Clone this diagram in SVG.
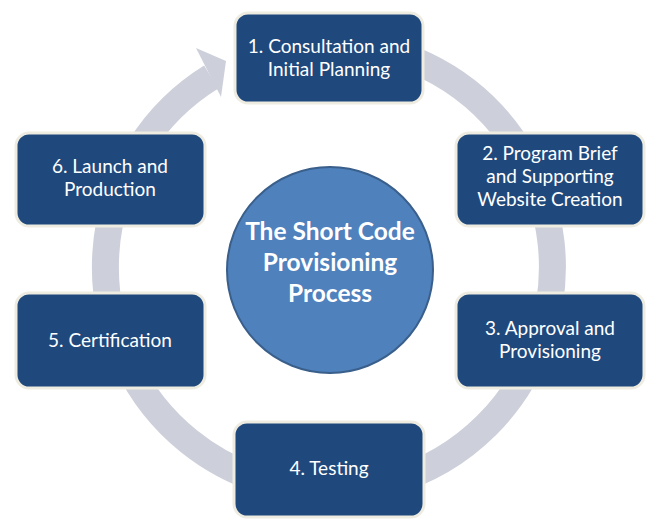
<svg xmlns="http://www.w3.org/2000/svg" width="660" height="530" viewBox="0 0 660 530">
<style>
.box{fill:#1F497D;stroke:#EEECE1;stroke-width:3}
.lbl{font-family:Lato,"Open Sans","Liberation Sans",sans-serif;font-size:19px;fill:#FFFFFF;text-anchor:middle}
.ctr{font-family:Lato,"Open Sans","Liberation Sans",sans-serif;font-size:24.5px;font-weight:bold;fill:#FFFFFF;text-anchor:middle}
.ring{fill:none;stroke:#CDD0DA;stroke-width:27}
</style>
<rect width="660" height="530" fill="#FFFFFF"/>
<g id="connectors">
<path class="ring" d="M 329 43.5 A 223.5 223.5 0 1 1 211.2 77.0"/>
<polygon points="196,48 226,61 221,97" fill="#CDD0DA"/>
</g>
<g id="center">
<circle cx="330" cy="270" r="103" fill="#4F81BD" stroke="#3A5F8B" stroke-width="2"/>
<text class="ctr" x="330" y="240">The Short Code</text>
<text class="ctr" x="330" y="271">Provisioning</text>
<text class="ctr" x="330" y="302">Process</text>
</g>
<g id="node1">
<rect class="box" x="235" y="13" width="188" height="90" rx="13"/>
<text class="lbl" x="329" y="53">1. Consultation and</text>
<text class="lbl" x="329" y="76">Initial Planning</text>
</g>
<g id="node2">
<rect class="box" x="456" y="133" width="188" height="93" rx="13"/>
<text class="lbl" x="550" y="160">2. Program Brief</text>
<text class="lbl" x="550" y="183">and Supporting</text>
<text class="lbl" x="550" y="206">Website Creation</text>
</g>
<g id="node3">
<rect class="box" x="456" y="293" width="188" height="95" rx="13"/>
<text class="lbl" x="550" y="335">3. Approval and</text>
<text class="lbl" x="550" y="358">Provisioning</text>
</g>
<g id="node4">
<rect class="box" x="234" y="422" width="190" height="95" rx="13"/>
<text class="lbl" x="329" y="475">4. Testing</text>
</g>
<g id="node5">
<rect class="box" x="16" y="293" width="189" height="95" rx="13"/>
<text class="lbl" x="110" y="347">5. Certification</text>
</g>
<g id="node6">
<rect class="box" x="16" y="133" width="189" height="93" rx="13"/>
<text class="lbl" x="110" y="173">6. Launch and</text>
<text class="lbl" x="110" y="196">Production</text>
</g>
</svg>
